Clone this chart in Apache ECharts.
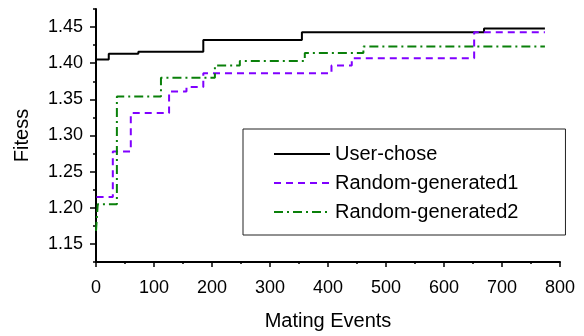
<!DOCTYPE html>
<html>
<head>
<meta charset="utf-8">
<script src="https://cdn.jsdelivr.net/npm/echarts@6/dist/echarts.min.js"></script>
<style>
html,body{margin:0;padding:0;background:#fff;}
#c{width:584px;height:336px;}
</style>
</head>
<body>
<div id="c"></div>
<script>
// Data (step points: [mating event, fitness])
const userChose = [[0,1.405],[22,1.413],[73,1.416],[185,1.432],[355,1.443],[669,1.448],[774,1.448]];
const random1 = [[1,1.215],[29,1.278],[60,1.331],[126,1.361],[156,1.367],[185,1.386],[406,1.397],[441,1.407],[652,1.443],[774,1.443]];
const random2 = [[0,1.168],[3,1.205],[36,1.354],[112,1.380],[205,1.397],[248,1.403],[360,1.414],[461,1.423],[774,1.423]];
const seriesNames = ['User-chose','Random-generated1','Random-generated2'];
const yTickValues = [1.15,1.20,1.25,1.30,1.35,1.40,1.45];
const yTickLabels = ['1.15','1.20','1.25','1.30','1.35','1.40','1.45'];
const yMinorValues = [1.125,1.175,1.225,1.275,1.325,1.375,1.425,1.475];
const xName = 'Mating Events';
const yName = 'Fitess';

const FONT = '"Liberation Sans", Arial, sans-serif';
const chart = echarts.init(document.getElementById('c'));
const gridPos = {left:96, right:24, top:9, bottom:67};
chart.setOption({
  animation:false,
  backgroundColor:'#fff',
  textStyle:{fontFamily:FONT},
  grid:[gridPos],
  xAxis:[{
    type:'value', min:0, max:800, interval:100,
    name:xName, nameLocation:'middle', nameGap:49,
    nameTextStyle:{fontSize:20,color:'#000',fontFamily:FONT},
    axisLine:{show:true,onZero:false,lineStyle:{color:'#000',width:2}},
    axisTick:{show:true,length:5,lineStyle:{color:'#000',width:1.5}},
    minorTick:{show:true,splitNumber:2,length:2,lineStyle:{color:'#000',width:1.5}},
    axisLabel:{fontSize:18,color:'#000',margin:17,fontFamily:FONT},
    splitLine:{show:false}
  }],
  yAxis:[{
    type:'value', min:1.125, max:1.475,
    name:yName, nameLocation:'middle', nameGap:64,
    nameTextStyle:{fontSize:20,color:'#000',fontFamily:FONT},
    axisLine:{show:true,onZero:false,lineStyle:{color:'#000',width:2}},
    axisTick:{show:true,length:6,customValues:yTickValues,lineStyle:{color:'#000',width:1.5}},
    axisLabel:{fontSize:18,color:'#000',margin:13,fontFamily:FONT,customValues:yTickValues,
      formatter:function(v){const i=yTickValues.findIndex(t=>Math.abs(t-v)<1e-9);return i>=0?yTickLabels[i]:'';}},
    splitLine:{show:false}
  },{
    type:'value', min:1.125, max:1.475, position:'left',
    axisLine:{show:false},
    axisTick:{show:true,length:3,customValues:yMinorValues,lineStyle:{color:'#000',width:1.5}},
    axisLabel:{show:false},
    splitLine:{show:false}
  }],
  legend:{
    orient:'vertical', left:243, top:129,
    padding:[15,47,13,30], itemGap:9, itemWidth:56, itemHeight:14,
    borderColor:'#222', borderWidth:1, backgroundColor:'#fff',
    itemStyle:{opacity:0, color:'rgba(0,0,0,0)', borderColor:'rgba(0,0,0,0)', borderWidth:0},
    textStyle:{fontSize:20,color:'#000',fontFamily:FONT},
    data:seriesNames
  },
  series:[
    {name:seriesNames[0],type:'line',step:'end',data:userChose,showSymbol:false,symbol:'none',
      lineStyle:{color:'#000',width:2,type:'solid'},itemStyle:{color:'#000'}},
    {name:seriesNames[1],type:'line',step:'end',data:random1,showSymbol:false,symbol:'none',
      lineStyle:{color:'#8000ff',width:2,type:[7,5]},itemStyle:{color:'#8000ff'}},
    {name:seriesNames[2],type:'line',step:'end',data:random2,showSymbol:false,symbol:'none',
      lineStyle:{color:'#0a800a',width:2,type:[9,4,2,4]},itemStyle:{color:'#0a800a'}}
  ]
});
</script>
</body>
</html>
